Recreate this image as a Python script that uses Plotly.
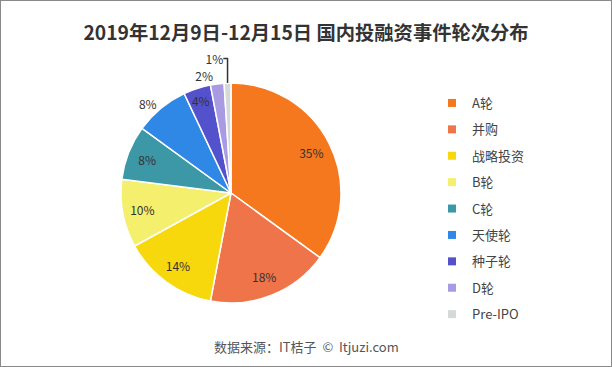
import plotly.graph_objects as go

categories = ["A轮", "并购", "战略投资", "B轮", "C轮", "天使轮", "种子轮", "D轮", "Pre-IPO"]
values = [35, 18, 14, 10, 8, 8, 4, 2, 1]
colors = ["#F5781E", "#F0744A", "#F7D80C", "#F5EF6E", "#3C97A6", "#2F88E6", "#5352CC", "#A99BE3", "#D5D9D8"]
text_positions = ["inside", "inside", "inside", "inside", "inside", "outside", "inside", "outside", "outside"]
title_text = "2019年12月9日-12月15日 国内投融资事件轮次分布"
source_text = "数据来源：IT桔子  ©  Itjuzi.com"

W, H = 612, 367
font_cjk = "Noto Sans CJK SC, Microsoft YaHei, sans-serif"
pie_domain = dict(x=[121 / W, 341 / W], y=[(H - 303) / H, (H - 83) / H])

fig = go.Figure()
# full pie (fill only)
fig.add_trace(go.Pie(
    labels=categories, values=values, sort=False, direction="clockwise", rotation=0,
    marker=dict(colors=colors, line=dict(color="white", width=1.5)),
    textinfo="none", showlegend=False, hoverinfo="label+percent",
    domain=pie_domain,
))
# transparent ring on top, carrying the percentage labels near the outer edge
fig.add_trace(go.Pie(
    labels=categories, values=values, sort=False, direction="clockwise", rotation=0,
    hole=0.64,
    marker=dict(colors=["rgba(0,0,0,0)"] * len(categories), line=dict(width=0)),
    texttemplate="%{percent:.0%}",
    textposition=text_positions,
    insidetextorientation="horizontal",
    textfont=dict(family=font_cjk, size=12, color="#333333"),
    outsidetextfont=dict(family=font_cjk, size=12, color="#333333"),
    showlegend=False, hoverinfo="skip",
    domain=pie_domain,
))

for cat, col in zip(categories, colors):
    fig.add_trace(go.Scatter(
        x=[None], y=[None], mode="markers", name=cat,
        marker=dict(symbol="square", size=8, color=col),
        legendgroup=cat, showlegend=True,
    ))

fig.update_layout(
    width=W, height=H,
    margin=dict(l=0, r=0, t=0, b=0),
    paper_bgcolor="white",
    plot_bgcolor="white",
    xaxis=dict(visible=False), yaxis=dict(visible=False),
    title=dict(text=title_text, x=0.5, xanchor="center", y=1 - 33 / H, yanchor="middle",
               font=dict(family=font_cjk, size=19.3, color="#333333", weight="bold")),
    legend=dict(x=432 / W, xanchor="left", y=1 - 88 / H, yanchor="top",
                font=dict(family=font_cjk, size=13, color="#444444"),
                tracegroupgap=6.5, itemwidth=30, bgcolor="rgba(0,0,0,0)"),
    annotations=[dict(text=source_text, x=0.5, y=1 - 346 / H, xref="paper", yref="paper",
                      showarrow=False, xanchor="center", yanchor="middle",
                      font=dict(family=font_cjk, size=13, color="#555555"))],
    shapes=[dict(type="rect", xref="paper", yref="paper", x0=0, y0=0, x1=1, y1=1,
                 line=dict(color="#8A8A8A", width=2))],
)

fig.write_html("out.html", config={"displayModeBar": False},
               post_script="document.body.style.margin='0';")
